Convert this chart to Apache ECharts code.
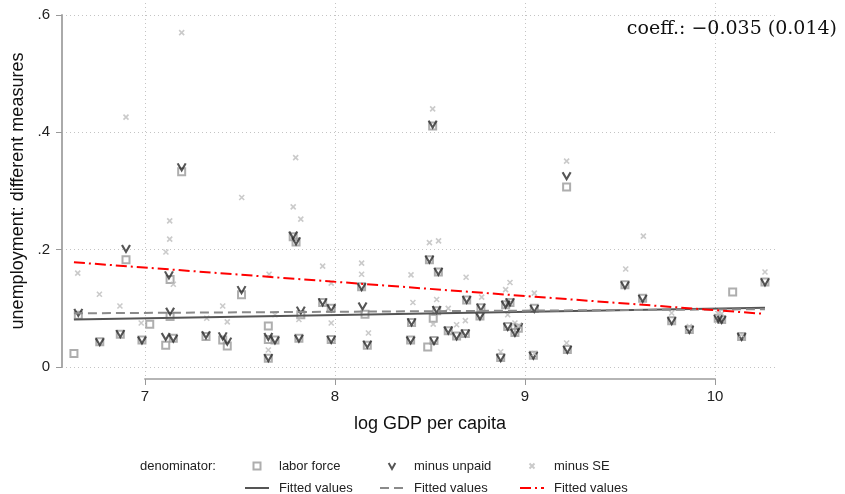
<!DOCTYPE html>
<html>
<head>
<meta charset="utf-8">
<script src="https://cdn.jsdelivr.net/npm/echarts@6/dist/echarts.min.js"></script>
<style>
  html, body { margin: 0; padding: 0; background: #fff; }
  #chart { width: 845px; height: 494px; }
</style>
</head>
<body>
<div id="chart"></div>
<script>
// log GDP per capita vs. unemployment rate under three denominators
const xTicks = [7, 8, 9, 10];
const yTicks = [0, 0.2, 0.4, 0.6];

// [log GDP per capita, unemployment rate], denominator: labor force
const laborForce = [
  [6.626, 0.023], [6.649, 0.088], [6.762, 0.043], [6.870, 0.056], [6.900, 0.183],
  [6.984, 0.046], [7.025, 0.073], [7.109, 0.037], [7.132, 0.149], [7.132, 0.086],
  [7.149, 0.049], [7.193, 0.333], [7.321, 0.052], [7.409, 0.046], [7.433, 0.036],
  [7.508, 0.123], [7.649, 0.070], [7.649, 0.047], [7.649, 0.015], [7.684, 0.046],
  [7.780, 0.222], [7.795, 0.213], [7.820, 0.089], [7.810, 0.049], [7.935, 0.110],
  [7.980, 0.100], [7.980, 0.047], [8.140, 0.137], [8.158, 0.090], [8.170, 0.037],
  [8.398, 0.046], [8.403, 0.076], [8.488, 0.034], [8.497, 0.183], [8.514, 0.411],
  [8.517, 0.083], [8.521, 0.045], [8.535, 0.096], [8.544, 0.162], [8.596, 0.062],
  [8.640, 0.053], [8.686, 0.057], [8.693, 0.114], [8.763, 0.087], [8.768, 0.101],
  [8.872, 0.016], [8.898, 0.106], [8.909, 0.069], [8.921, 0.110], [8.947, 0.059],
  [8.965, 0.066], [9.044, 0.020], [9.049, 0.100], [9.219, 0.307], [9.223, 0.030],
  [9.526, 0.140], [9.619, 0.117], [9.772, 0.079], [9.865, 0.064], [10.017, 0.083],
  [10.035, 0.081], [10.093, 0.128], [10.140, 0.052], [10.263, 0.145]
];

// denominator: labor force minus unpaid workers
const minusUnpaid = [
  [6.649, 0.093], [6.762, 0.043], [6.870, 0.057], [6.900, 0.202], [6.984, 0.046],
  [7.126, 0.157], [7.132, 0.095], [7.109, 0.052], [7.149, 0.049], [7.193, 0.341],
  [7.321, 0.055], [7.409, 0.053], [7.433, 0.044], [7.508, 0.132], [7.649, 0.052],
  [7.649, 0.016], [7.684, 0.046], [7.780, 0.225], [7.795, 0.215], [7.820, 0.097],
  [7.810, 0.049], [7.935, 0.111], [7.980, 0.101], [7.980, 0.047], [8.140, 0.137],
  [8.145, 0.104], [8.170, 0.039], [8.398, 0.046], [8.403, 0.077], [8.497, 0.184],
  [8.514, 0.414], [8.521, 0.045], [8.535, 0.098], [8.544, 0.163], [8.596, 0.063],
  [8.640, 0.053], [8.686, 0.058], [8.693, 0.115], [8.763, 0.087], [8.768, 0.102],
  [8.872, 0.016], [8.898, 0.107], [8.909, 0.069], [8.921, 0.111], [8.947, 0.059],
  [8.965, 0.069], [9.044, 0.020], [9.049, 0.100], [9.219, 0.326], [9.223, 0.030],
  [9.526, 0.140], [9.619, 0.117], [9.772, 0.079], [9.865, 0.064], [10.017, 0.083],
  [10.035, 0.081], [10.140, 0.052], [10.263, 0.145]
];

// denominator: labor force minus self-employed
const minusSE = [
  [6.646, 0.160], [6.760, 0.124], [6.868, 0.104], [6.900, 0.426], [6.980, 0.075],
  [7.130, 0.249], [7.130, 0.218], [7.110, 0.196], [7.149, 0.141], [7.193, 0.570],
  [7.325, 0.083], [7.409, 0.104], [7.433, 0.077], [7.509, 0.289], [7.653, 0.158],
  [7.649, 0.029], [7.684, 0.089], [7.780, 0.273], [7.793, 0.357], [7.820, 0.252],
  [7.810, 0.081], [7.935, 0.172], [7.980, 0.143], [7.980, 0.075], [8.140, 0.177],
  [8.140, 0.158], [8.176, 0.058], [8.400, 0.157], [8.410, 0.110], [8.497, 0.212],
  [8.514, 0.440], [8.535, 0.115], [8.517, 0.073], [8.545, 0.215], [8.596, 0.100],
  [8.640, 0.072], [8.686, 0.079], [8.690, 0.153], [8.772, 0.119], [8.872, 0.026],
  [8.898, 0.132], [8.921, 0.144], [8.909, 0.089], [8.947, 0.075], [8.968, 0.070],
  [9.049, 0.126], [9.049, 0.023], [9.219, 0.351], [9.219, 0.041], [9.530, 0.167],
  [9.623, 0.223], [9.772, 0.092], [9.865, 0.069], [10.017, 0.091], [10.035, 0.091],
  [10.140, 0.055], [10.263, 0.162]
];

// OLS fitted lines, endpoints at the smallest and largest log GDP
const fitLaborForce = [[6.626, 0.081], [10.263, 0.101]];
const fitMinusUnpaid = [[6.626, 0.0915], [10.263, 0.0985]];
const fitMinusSE = [[6.626, 0.1785], [10.263, 0.0905]];

const coeffText = 'coeff.: \u22120.035 (0.014)';

// plot region: 7..10 spans 570px, 0..0.6 spans 352px, with a margin around
const pxPerX = 570 / (xTicks[xTicks.length - 1] - xTicks[0]);
const pxPerY = 352 / (yTicks[yTicks.length - 1] - yTicks[0]);
const xMin = xTicks[0] - 83 / pxPerX;
const xMax = xTicks[xTicks.length - 1] + 62 / pxPerX;
const yMin = yTicks[0] - 12 / pxPerY;
const yMax = yTicks[yTicks.length - 1] + 12 / pxPerY;

const sans = '"Liberation Sans", Arial, Helvetica, sans-serif';
const gridDots = { show: true, lineStyle: { type: [1, 3], color: '#c4c4c4', width: 1 } };

const squarePath = 'path://M0,0L10,0L10,10L0,10Z';
const vPath = 'path://M0,0L5,9L10,0';
const crossPath = 'path://M0,0L10,10M10,0L0,10';

// legend column: marker entry on top, its fitted line below
function legendColumn(left, markerName, icon, iconHeight, fitName) {
  return {
    left: left, top: 459, height: 44, padding: 0, orient: 'vertical',
    itemWidth: 24, itemHeight: iconHeight, itemGap: 8,
    textStyle: { fontSize: 13, lineHeight: 14, color: '#222', padding: [0, 0, 0, 5], fontFamily: sans },
    formatter: n => (n === fitName ? 'Fitted values' : n),
    data: [
      { name: markerName, icon: icon },
      { name: fitName, itemStyle: { opacity: 0 } }
    ]
  };
}

const chart = echarts.init(document.getElementById('chart'), null, { renderer: 'canvas' });

chart.setOption({
  animation: false,
  backgroundColor: '#ffffff',
  textStyle: { fontFamily: sans },
  title: [
    {
      text: 'denominator:', left: 140, top: 459, padding: 0,
      textStyle: { fontFamily: sans, fontSize: 13, fontWeight: 'normal', color: '#222', lineHeight: 14 }
    },
    {
      text: coeffText, right: 3, top: 15,
      textStyle: { fontFamily: '"DejaVu Serif", serif', fontSize: 19, fontWeight: 'normal', color: '#111' }
    }
  ],
  grid: [
    { left: 62, right: 68, top: 3, bottom: 115 },
    { left: 145, width: 570, top: 3, bottom: 115 },
    { left: 62, right: 68, top: 15, height: 352 }
  ],
  xAxis: [
    { gridIndex: 0, type: 'value', min: xMin, max: xMax, show: false },
    {
      gridIndex: 1, type: 'value', min: xTicks[0], max: xTicks[xTicks.length - 1], interval: 1,
      axisLine: { show: true, lineStyle: { color: '#b5b5b5', width: 2 } },
      axisTick: { show: true, length: 6, lineStyle: { color: '#999', width: 1 } },
      axisLabel: { fontSize: 15, color: '#222', margin: 10, fontFamily: sans },
      splitLine: gridDots,
      name: 'log GDP per capita', nameLocation: 'middle', nameGap: 36,
      nameTextStyle: { fontSize: 18, color: '#111', fontFamily: sans }
    },
    { gridIndex: 2, type: 'value', min: 0, max: 1, show: false }
  ],
  yAxis: [
    { gridIndex: 0, type: 'value', min: yMin, max: yMax, show: false },
    { gridIndex: 1, type: 'value', min: 0, max: 1, show: false },
    {
      gridIndex: 2, type: 'value', min: yTicks[0], max: yTicks[yTicks.length - 1], interval: 0.2,
      axisLine: { show: true, lineStyle: { color: '#aaa', width: 2 } },
      axisTick: { show: true, length: 6, lineStyle: { color: '#999', width: 1 } },
      axisLabel: {
        fontSize: 15, color: '#222', margin: 12, fontFamily: sans,
        formatter: v => (v === 0 ? '0' : v.toFixed(1).replace(/^0/, ''))
      },
      splitLine: gridDots,
      name: 'unemployment: different measures', nameLocation: 'middle', nameGap: 34,
      nameTextStyle: { fontSize: 18, color: '#111', fontFamily: sans }
    }
  ],
  legend: [
    legendColumn(244, 'labor force', squarePath, 7, 'fit labor force'),
    legendColumn(379, 'minus unpaid', vPath, 6, 'fit minus unpaid'),
    legendColumn(519, 'minus SE', crossPath, 5, 'fit minus SE')
  ],
  series: [
    {
      name: 'labor force', type: 'scatter', xAxisIndex: 0, yAxisIndex: 0,
      data: laborForce, symbol: squarePath, symbolSize: 7,
      itemStyle: { color: 'rgba(0,0,0,0)', borderColor: '#9a9a9a', borderWidth: 2 }
    },
    {
      name: 'minus unpaid', type: 'scatter', xAxisIndex: 0, yAxisIndex: 0,
      data: minusUnpaid, symbol: vPath, symbolSize: [8, 7],
      itemStyle: { color: 'rgba(0,0,0,0)', borderColor: '#2b2b2b', borderWidth: 2 }
    },
    {
      name: 'minus SE', type: 'scatter', xAxisIndex: 0, yAxisIndex: 0,
      data: minusSE, symbol: crossPath, symbolSize: 5,
      itemStyle: { color: 'rgba(0,0,0,0)', borderColor: '#bdbdbd', borderWidth: 1.6 }
    },
    {
      name: 'fit labor force', type: 'line', xAxisIndex: 0, yAxisIndex: 0,
      data: fitLaborForce, symbol: 'none', itemStyle: { color: '#555' },
      lineStyle: { color: '#555', width: 2, type: 'solid' }
    },
    {
      name: 'fit minus unpaid', type: 'line', xAxisIndex: 0, yAxisIndex: 0,
      data: fitMinusUnpaid, symbol: 'none', itemStyle: { color: '#8a8a8a' },
      lineStyle: { color: '#8a8a8a', width: 2, type: [9, 5] }
    },
    {
      name: 'fit minus SE', type: 'line', xAxisIndex: 0, yAxisIndex: 0,
      data: fitMinusSE, symbol: 'none', itemStyle: { color: '#ff0000' },
      lineStyle: { color: '#ff0000', width: 2, type: [11, 4, 2, 4] }
    }
  ]
});
</script>
</body>
</html>
